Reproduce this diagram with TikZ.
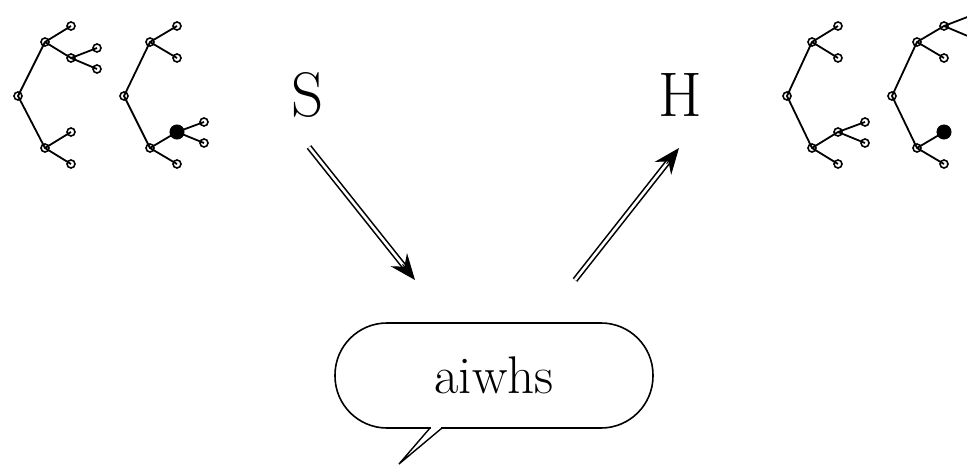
\documentclass[tikz,border=0pt]{standalone}
\usetikzlibrary{arrows.meta,calc}
\tikzset{
  v/.style={circle,draw,line width=1.6pt,inner sep=0pt,minimum size=8pt},
  vf/.style={circle,fill=black,draw,line width=1pt,inner sep=0pt,minimum size=14pt},
  edge/.style={line width=1.8pt},
  shaft/.style={double,double distance=2.6pt,line width=1.6pt},
  tip/.style={line width=1pt,-{Stealth[length=26pt,width=21pt,inset=9pt]}},
  big/.style={font=\rmfamily\fontsize{63}{70}\selectfont,inner sep=0pt},
}
\begin{document}
\begin{tikzpicture}[x=1pt,y=-1pt]
\useasboundingbox (0,0) rectangle (967,466);
% ---- labels
\node[big] (S) at (308,95) {S};
\node[big] (H) at (680,94.5) {H};
% ---- bubble
\node[draw,line width=1.6pt,rounded corners=52pt,minimum width=318pt,minimum height=105pt,
      font=\rmfamily\fontsize{53}{60}\selectfont,inner sep=0pt] (bub) at (494,375.5) {aiwhs};
% ---- tree 1
\coordinate (a) at (18,96);
\coordinate (au) at (45,42);
\coordinate (auu) at (71,26);
\coordinate (aud) at (71,58);
\coordinate (audu) at (97,48);
\coordinate (audd) at (97,69);
\coordinate (al) at (45,148);
\coordinate (alu) at (71,132);
\coordinate (ald) at (71,164);
\draw[edge] (auu)--(au)--(a)--(al)--(ald) (au)--(aud)--(audu) (aud)--(audd) (al)--(alu);
\foreach \n in {a,au,auu,aud,audu,audd,al,alu,ald} \node[v] (n\n) at (\n) {};
% ---- tree 2
\coordinate (b) at (124,96);
\coordinate (bu) at (150,42);
\coordinate (buu) at (177,26);
\coordinate (bud) at (177,58);
\coordinate (bl) at (150,148);
\coordinate (blu) at (177,132);
\coordinate (bld) at (177,164);
\coordinate (bluu) at (204,122);
\coordinate (blud) at (204,143);
\draw[edge] (buu)--(bu)--(b)--(bl)--(bld) (bu)--(bud) (bl)--(blu)--(bluu) (blu)--(blud);
\foreach \n in {b,bu,buu,bud,bl,bld,bluu,blud} \node[v] (n\n) at (\n) {};
\node[vf] (nblu) at (blu) {};
% ---- tree 3
\coordinate (c) at (787,96);
\coordinate (cu) at (812,42);
\coordinate (cuu) at (838,26);
\coordinate (cud) at (838,58);
\coordinate (cl) at (812,148);
\coordinate (clu) at (838,132);
\coordinate (cluu) at (865,122);
\coordinate (clud) at (865,143);
\coordinate (cld) at (838,164);
\draw[edge] (cuu)--(cu)--(c)--(cl)--(cld) (cu)--(cud) (cl)--(clu)--(cluu) (clu)--(clud);
\foreach \n in {c,cu,cuu,cud,cl,clu,cluu,clud,cld} \node[v] (n\n) at (\n) {};
% ---- tree 4
\coordinate (d) at (892,96);
\coordinate (du) at (917,42);
\coordinate (duu) at (944,26);
\coordinate (duuu) at (970,16);
\coordinate (duud) at (970,37);
\coordinate (dud) at (944,58);
\coordinate (dl) at (917,148);
\coordinate (dlu) at (944,132);
\coordinate (dld) at (944,164);
\draw[edge] (duuu)--(duu)--(du)--(d)--(dl)--(dld) (duu)--(duud) (du)--(dud) (dl)--(dlu);
\foreach \n in {d,du,duu,dud,dl,dld} \node[v] (n\n) at (\n) {};
\node[vf] (ndlu) at (dlu) {};
% ---- arrows
\coordinate (s1) at (309,147);
\coordinate (e1) at (415,280);
\coordinate (s2) at (575,280);
\coordinate (e2) at (679,148);
\draw[shaft] (s1) -- ($(e1)!16pt!(s1)$);
\draw[tip] ($(e1)!20pt!(s1)$) -- (e1);
\draw[shaft] (s2) -- ($(e2)!16pt!(s2)$);
\draw[tip] ($(e2)!20pt!(s2)$) -- (e2);
% ---- bubble tail
\coordinate (t1) at (430,428);
\coordinate (t2) at (442,428);
\coordinate (tt) at (399,464);
\fill[white] (431,425) rectangle (441,431);
\draw[line width=1.4pt,line join=miter] (t1) -- (tt) -- (t2);
\end{tikzpicture}
\end{document}
